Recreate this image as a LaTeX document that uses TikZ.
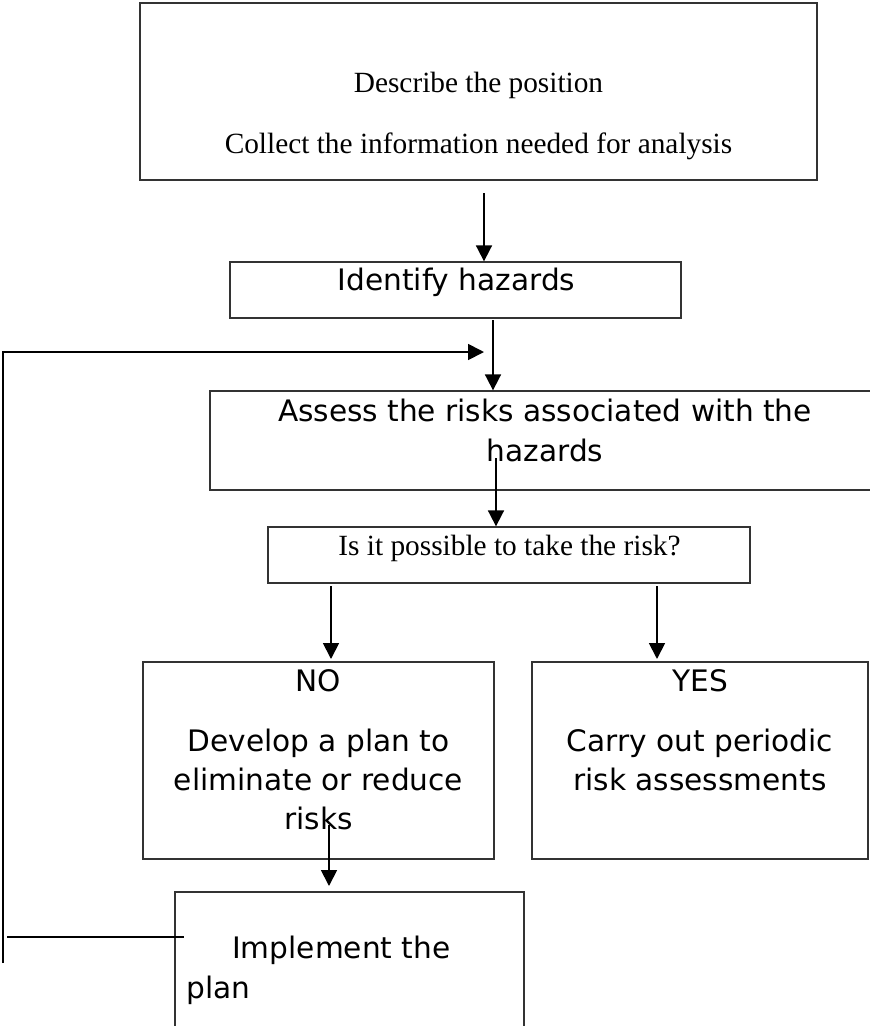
\documentclass[tikz,border=0pt]{standalone}
\usepackage{fontspec}
\setmainfont{Liberation Serif}
\newfontfamily\dejavu{DejaVu Sans}
\usetikzlibrary{arrows.meta,fit}
\begin{document}
\begin{tikzpicture}[x=0.75pt,y=-0.75pt,
  box/.style={draw=black!80,line width=1pt,inner sep=0pt,rectangle},
  serif/.style={font=\fontsize{22}{26}\selectfont,inner sep=0pt,anchor=base},
  sans/.style={font=\dejavu\fontsize{22.2}{26}\selectfont,inner sep=0pt,anchor=base},
  sansl/.style={sans,anchor=base west},
  arr/.style={line width=1.35pt,-{Triangle[length=12pt,width=12pt]}},
  ln/.style={line width=1.35pt}]
\useasboundingbox (0,0) rectangle (870,1026);
\clip (0,0) rectangle (870,1026);

% boxes
\node[box,fit={(140,3) (817,180)}] (top) {};
\node[box,fit={(230,262) (681,318)}] (ident) {};
\node[box,fit={(210,391) (879,490)}] (assess) {};
\node[box,fit={(268,527) (750,583)}] (quest) {};
\node[box,fit={(143,662) (494,859)}] (no) {};
\node[box,fit={(532,662) (868,859)}] (yes) {};
\node[box,fit={(175,892) (524,1040)}] (impl) {};

% texts
\node[serif] (t1a) at (478.5,92) {Describe the position};
\node[serif] (t1b) at (478.5,153) {Collect the information needed for analysis};
\node[sans] (t2) at (456.5,290) {Identify hazards};
\node[sans] (t3a) at (545,421) {Assess the risks associated with the};
\node[sans] (t3b) at (545,461) {hazards};
\node[serif] (t4) at (509.5,555) {Is it possible to take the risk?};
\node[sans] (t5a) at (318.5,691) {NO};
\node[sans] (t5b) at (318.5,751) {Develop a plan to};
\node[sans] (t5c) at (318.5,790) {eliminate or reduce};
\node[sans] (t5d) at (318.5,829) {risks};
\node[sans] (t6a) at (700,691) {YES};
\node[sans] (t6b) at (700,751) {Carry out periodic};
\node[sans] (t6c) at (700,790) {risk assessments};
\node[sansl] (t7a) at (232,958) {Implement the};
\node[sansl] (t7b) at (186,998) {plan};

% connectors
\coordinate (s1) at (484,193);
\draw[arr] (s1) -- (s1 |- ident.north);
\coordinate (s2) at (493,320);
\draw[arr] (s2) -- (s2 |- assess.north);
\coordinate (s3) at (496,458);
\draw[arr] (s3) -- (s3 |- quest.north);
\coordinate (s4) at (331,586);
\coordinate (e4) at (331,659);
\draw[arr] (s4) -- (e4);
\coordinate (s5) at (657,586);
\coordinate (e5) at (657,659);
\draw[arr] (s5) -- (e5);
\coordinate (s6) at (329,825);
\coordinate (e6) at (329,886);
\draw[arr] (s6) -- (e6);

% feedback loop
\coordinate (fb0) at (3,963);
\coordinate (fb1) at (3,352);
\coordinate (fb2) at (484,352);
\draw[arr] (fb0) -- (fb1) -- (fb2);
\coordinate (h0) at (7,937);
\coordinate (h1) at (184,937);
\draw[ln] (h0) -- (h1);
\end{tikzpicture}
\end{document}
